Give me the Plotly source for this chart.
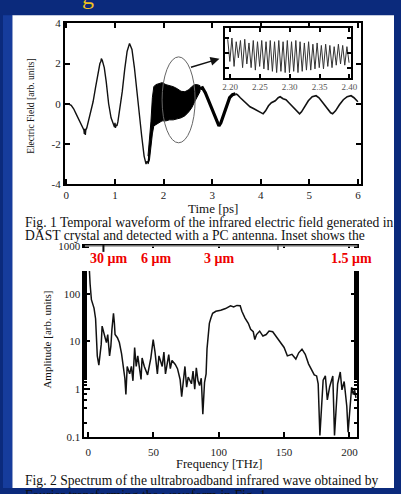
import plotly.graph_objects as go

W, H = 401, 494

# ---------------- data: Fig. 1 temporal waveform ----------------
wave1_t = [0.00, 0.05, 0.10, 0.15, 0.20, 0.25, 0.30, 0.34, 0.36, 0.37,
           0.38, 0.39, 0.40, 0.42, 0.45, 0.50, 0.55, 0.60, 0.65, 0.69,
           0.71, 0.72, 0.74, 0.78, 0.82, 0.87, 0.92, 0.97, 0.99, 1.00,
           1.01, 1.02, 1.04, 1.06, 1.10, 1.15, 1.20, 1.25, 1.30, 1.35,
           1.40, 1.45, 1.50, 1.55, 1.60, 1.62, 1.64, 1.66, 1.68, 1.70]
wave1_e = [0.00, -0.02, -0.08, -0.25, -0.5, -0.75, -1.0, -1.2, -1.3, -1.5,
           -1.25, -1.55, -1.3, -1.2, -0.9, -0.3, 0.1, 0.8, 1.5, 2.0,
           2.1, 2.25, 2.15, 1.8, 1.1, 0.0, -0.7, -1.0, -1.15, -0.95,
           -1.2, -1.05, -1.1, -0.9, -0.3, 0.6, 1.7, 2.6, 3.0, 2.7,
           1.8, 0.6, -0.5, -1.6, -2.6, -2.9, -3.0, -2.85, -2.95, -2.6]

# dense fast-oscillation band (upper / lower envelope)
band_t = [1.68, 1.71, 1.74, 1.77, 1.80, 1.84, 1.90, 1.97, 2.05, 2.12,
          2.20, 2.28, 2.36, 2.44, 2.52, 2.58, 2.64, 2.70, 2.75]
band_hi = [-2.6, -1.9, -0.9, 0.3, 0.85, 0.95, 1.0, 1.05, 0.95, 0.9,
           0.85, 0.75, 0.62, 0.6, 0.7, 0.85, 0.95, 0.95, 0.9]
band_lo = [-3.0, -2.8, -2.3, -1.5, -1.1, -1.05, -0.95, -0.85, -0.85, -0.8,
           -0.8, -0.75, -0.7, -0.6, -0.4, -0.2, 0.1, 0.4, 0.6]

wave2_t = [2.75, 2.80, 2.86, 2.92, 2.98, 3.04, 3.10, 3.14, 3.18, 3.24,
           3.30, 3.36, 3.42, 3.48, 3.52, 3.58, 3.64, 3.70, 3.78, 3.86,
           3.94, 4.00, 4.05, 4.10, 4.16, 4.22, 4.30, 4.36, 4.40, 4.46,
           4.52, 4.58, 4.66, 4.74, 4.80, 4.84, 4.90, 4.98, 5.06, 5.14,
           5.20, 5.28, 5.36, 5.44, 5.48, 5.54, 5.62, 5.70, 5.78, 5.86,
           5.92, 6.00]
wave2_e = [0.75, 0.8, 0.55, 0.2, -0.15, -0.5, -0.9, -1.1, -0.95, -0.5,
           -0.05, 0.3, 0.45, 0.5, 0.45, 0.3, 0.15, 0.0, -0.15, -0.25,
           -0.35, -0.45, -0.5, -0.35, -0.1, 0.05, 0.15, 0.3, 0.35, 0.25,
           0.2, 0.05, -0.15, -0.35, -0.5, -0.4, -0.15, 0.15, 0.35, 0.4,
           0.3, 0.05, -0.25, -0.45, -0.5, -0.35, -0.05, 0.2, 0.35, 0.4,
           0.3, 0.1]

time_ticks = [0, 1, 2, 3, 4, 5, 6]
field_ticks = [-4, -2, 0, 2, 4]
field_labels = ["-4", "-2", "0", "2", "4"]

# inset (2.20 - 2.40 ps)
inset_t = [2.1960, 2.1996, 2.2031, 2.2067, 2.2103, 2.2139, 2.2174, 2.2210, 2.2246, 2.2281,
           2.2317, 2.2353, 2.2389, 2.2424, 2.2460, 2.2496, 2.2531, 2.2567, 2.2603, 2.2639,
           2.2674, 2.2710, 2.2746, 2.2781, 2.2817, 2.2853, 2.2889, 2.2924, 2.2960, 2.2996,
           2.3031, 2.3067, 2.3103, 2.3139, 2.3174, 2.3210, 2.3246, 2.3281, 2.3317, 2.3353,
           2.3389, 2.3424, 2.3460, 2.3496, 2.3531, 2.3567, 2.3603, 2.3639, 2.3674, 2.3710,
           2.3746, 2.3781, 2.3817, 2.3853, 2.3889, 2.3924, 2.3960, 2.3996]
inset_e = [0.55, -0.35, 0.6, -0.55, 0.45, -0.2, 0.5, -0.6, 0.55, -0.45,
           0.4, -0.6, 0.5, -0.7, 0.45, -0.55, 0.5, -0.65, 0.45, -0.7,
           0.5, -0.75, 0.45, -0.8, 0.5, -0.75, 0.45, -0.8, 0.5, -0.8,
           0.45, -0.75, 0.5, -0.8, 0.45, -0.75, 0.4, -0.7, 0.45, -0.7,
           0.35, -0.65, 0.4, -0.6, 0.3, -0.65, 0.35, -0.55, 0.3, -0.6,
           0.25, -0.5, 0.35, -0.45, 0.3, -0.5, 0.25, -0.4]
inset_ticks = [2.20, 2.25, 2.30, 2.35, 2.40]
inset_labels = ["2.20", "2.25", "2.30", "2.35", "2.40"]

# ---------------- data: Fig. 2 spectrum ----------------
spec_f = [0.3, 0.8, 1.5, 2.5, 3.5, 4.5, 5.7, 7.0, 8.2, 9.0,
          10.0, 10.7, 12.0, 13.0, 14.0, 15.0, 16.4, 17.4, 18.2, 19.4,
          20.1, 20.6, 22.4, 23.9, 25.6, 26.9, 28.1, 28.9, 29.9, 31.8,
          33.1, 34.3, 35.6, 36.8, 38.0, 40.5, 41.3, 43.0, 45.5, 48.0,
          49.8, 51.2, 53.0, 54.2, 56.7, 58.0, 59.2, 61.7, 62.9, 64.2,
          66.7, 68.4, 70.4, 71.6, 72.9, 74.1, 75.4, 76.6, 79.1, 80.3,
          81.6, 82.8, 84.1, 85.3, 86.6, 87.1, 87.8, 89.1, 90.3, 91.0,
          92.0, 92.8, 94.0, 95.3, 97.8, 101.5, 105.2, 106.5, 109.0, 111.4,
          113.9, 116.4, 117.7, 120.1, 122.6, 124.4, 126.4, 127.6, 128.9, 131.3,
          133.8, 136.3, 138.5, 141.3, 143.5, 146.3, 150.0, 152.5, 156.0, 159.0,
          161.2, 163.7, 166.2, 168.7, 171.2, 173.1, 174.9, 176.1, 177.4, 178.6,
          179.9, 181.6, 183.1, 184.9, 186.1, 187.3, 188.6, 189.8, 191.0, 193.0,
          194.3, 196.0, 198.0, 199.0, 200.5, 201.7, 203.0, 204.0, 205.0]
spec_a = [700, 350, 160, 75, 60, 50, 30, 5.0, 3.2, 4.8,
          8.7, 21, 14, 12, 9.5, 14, 5.0, 8.0, 17.7, 39,
          24, 14, 12, 9.5, 5.5, 2.7, 1.7, 0.78, 3.0, 2.1,
          3.0, 1.5, 7.5, 3.0, 5.0, 1.6, 4.5, 3.0, 2.0, 4.5,
          11, 6.0, 2.1, 5.0, 3.0, 6.0, 2.1, 5.3, 2.7, 4.0,
          3.3, 2.7, 1.6, 0.7, 1.8, 3.0, 1.1, 1.8, 1.3, 2.4,
          1.0, 2.8, 1.5, 1.2, 1.7, 0.52, 0.3, 1.4, 2.1, 7.0,
          16.6, 24, 31, 39, 43, 45, 49, 51, 56, 53,
          57, 56, 43, 31, 24, 18, 16, 11, 14, 16.5,
          13, 14, 16.5, 16, 13, 10.2, 7.5, 5.0, 5.4, 4.3,
          5.8, 6.9, 5.4, 3.4, 2.5, 2.0, 1.9, 1.3, 0.107, 0.52,
          1.55, 1.9, 0.6, 1.13, 1.45, 1.9, 0.107, 0.44, 1.3, 2.3,
          0.97, 1.45, 0.44, 0.126, 0.52, 1.1, 0.77, 0.97, 0.66]
freq_ticks = [0, 50, 100, 150, 200]
amp_ticks = [0.1, 1, 10, 100, 1000]
amp_labels = ["0.1", "1", "10", "100", "1000"]
wavelength_labels = ["30 μm", "6 μm", "3 μm", "1.5 μm"]

# ---------------- helpers (pixel -> paper) ----------------
def PX(x):
    return x / W


def PY(y):
    return 1 - y / H


SERIF = "Liberation Serif"
fig = go.Figure()

# Fig. 1 main waveform
fig.add_trace(go.Scatter(x=wave1_t, y=wave1_e, mode="lines",
                         line=dict(color="#111", width=1.4), xaxis="x", yaxis="y"))
fig.add_trace(go.Scatter(x=band_t + band_t[::-1], y=band_hi + band_lo[::-1],
                         mode="lines", fill="toself", fillcolor="#000",
                         line=dict(color="#000", width=1), xaxis="x", yaxis="y"))
fig.add_trace(go.Scatter(x=wave2_t[:14], y=wave2_e[:14], mode="lines",
                         line=dict(color="#000", width=3.2), xaxis="x", yaxis="y"))
fig.add_trace(go.Scatter(x=wave2_t[13:], y=wave2_e[13:], mode="lines",
                         line=dict(color="#111", width=1.6), xaxis="x", yaxis="y"))
# inset
fig.add_trace(go.Scatter(x=inset_t, y=inset_e, mode="lines",
                         line=dict(color="#333", width=1), xaxis="x2", yaxis="y2"))
# Fig. 2 spectrum
fig.add_trace(go.Scatter(x=spec_f, y=spec_a, mode="lines",
                         line=dict(color="#111", width=1.5), xaxis="x3", yaxis="y3"))

tickfont = dict(family=SERIF, size=11, color="#222")
common = dict(showgrid=False, zeroline=False, showline=True, linecolor="#000",
              mirror="ticks", ticks="inside", tickcolor="#000", tickfont=tickfont)

fig.update_layout(
    width=W, height=H, margin=dict(l=0, r=0, t=0, b=0),
    paper_bgcolor="#0b2a7c", plot_bgcolor="rgba(0,0,0,0)",
    showlegend=False,
    xaxis=dict(domain=[PX(63.3), PX(366.7)], range=[-0.034, 6.055], anchor="y",
               tickvals=time_ticks, ticklen=5, tickwidth=1.5, linewidth=1.6, **common),
    yaxis=dict(domain=[PY(182.7), PY(17.7)], range=[-4, 4], anchor="x",
               tickvals=field_ticks, ticktext=field_labels, ticklen=5, tickwidth=1.5,
               linewidth=1.6, **common),
    xaxis2=dict(domain=[PX(228), PX(357)], range=[2.192, 2.403], anchor="y2",
                tickvals=inset_ticks, ticktext=inset_labels, ticklen=4, tickwidth=1.5,
                linewidth=2, **{**common, "tickfont": dict(family=SERIF, size=9, color="#555")}),
    yaxis2=dict(domain=[PY(73.3), PY(22.7)], range=[-1, 1], anchor="x2",
                tickvals=[-0.6, 0, 0.6], showticklabels=False, ticklen=4, tickwidth=1.5,
                linewidth=2, **common),
    xaxis3=dict(domain=[PX(83.3), PX(363.3)], range=[-3, 206], anchor="y3",
                tickvals=freq_ticks, ticklen=5, tickwidth=1.5, linewidth=1.6,
                ticklabelstandoff=4, **common),
    yaxis3=dict(domain=[PY(441.7), PY(246)], range=[-1, 3], type="log", anchor="x3",
                tickvals=amp_ticks, ticktext=amp_labels, ticklen=6, tickwidth=1.5,
                linewidth=1.6, minor=dict(ticks="inside", ticklen=3, tickcolor="#000"),
                **common),
)

shapes = [
    # white page area (slide picture)
    dict(type="rect", xref="paper", yref="paper", x0=PX(9.5), x1=1, y0=0, y1=PY(9.5),
         fillcolor="white", line=dict(width=0), layer="below"),
    # lighter left strip of the slide
    dict(type="rect", xref="paper", yref="paper", x0=0, x1=PX(9.5), y0=0, y1=PY(9.5),
         fillcolor="#163c9c", line=dict(width=0), layer="below"),
    # ellipse marking the zoomed region
    dict(type="circle", xref="x", yref="y", x0=1.97, x1=2.65, y0=-1.94, y1=2.33,
         line=dict(color="#666", width=1), layer="above"),
    # white patch covering the top of the spectrum frame
    dict(type="rect", xref="paper", yref="paper", x0=PX(79), x1=PX(372),
         y0=PY(271.5), y1=PY(248), fillcolor="white", line=dict(width=0), layer="above"),
    # grey top frame line of the spectrum
    dict(type="line", xref="paper", yref="paper", x0=PX(84), x1=PX(363.5),
         y0=PY(246), y1=PY(246), line=dict(color="#9a9a9a", width=1.6), layer="above"),
    dict(type="line", xref="paper", yref="paper", x0=PX(103), x1=PX(103),
         y0=PY(245), y1=PY(252), line=dict(color="#111", width=2), layer="above"),
    dict(type="line", xref="paper", yref="paper", x0=PX(282), x1=PX(282),
         y0=PY(245), y1=PY(250), line=dict(color="#555", width=1.5), layer="above"),
]
fig.update_layout(shapes=shapes)


def txt(x, y, text, font, xanchor="center", yanchor="middle", **kw):
    return dict(xref="paper", yref="paper", x=PX(x), y=PY(y), text=text,
                showarrow=False, xanchor=xanchor, yanchor=yanchor, font=font, **kw)


ann = []
# arrow from ellipse to inset
ann.append(dict(xref="paper", yref="paper", x=PX(222), y=PY(54), ax=-30, ay=9,
                text="", showarrow=True, arrowhead=2, arrowsize=1.2, arrowwidth=1.5,
                arrowcolor="#111"))
# axis titles
ann.append(txt(215, 208, "Time [ps]", dict(family=SERIF, size=13, color="#111")))
ann.append(txt(28, 102, "Electric Field [arb. units]", dict(family=SERIF, size=9.5, color="#111"),
               textangle=-90))
ann.append(txt(222, 469, "Frequency [THz]", dict(family=SERIF, size=12.5, color="#111")))
ann.append(txt(45, 342, "Amplitude [arb. units]", dict(family=SERIF, size=11, color="#111"),
               textangle=-90))
# captions
cap_font = dict(family=SERIF, size=13.6, color="#111")
ann.append(txt(21, 221.5, "Fig. 1 Temporal waveform of the infrared electric field generated in",
               cap_font, xanchor="left"))
ann.append(txt(21, 235.5, "DAST crystal and detected with a PC antenna. Inset shows the",
               cap_font, xanchor="left"))
ann.append(txt(21, 486, "Fig. 2 Spectrum of the ultrabroadband infrared wave obtained by",
               cap_font, xanchor="left"))
ann.append(txt(21, 502, "Fourier transforming the waveform in Fig. 1.",
               cap_font, xanchor="left"))
# wavelength labels
for lbl, xc in zip(wavelength_labels, [108, 157, 222, 357]):
    ann.append(txt(xc, 259, "<b>%s</b>" % lbl, dict(family=SERIF, size=14, color="#ee0000")))
# bit of the slide title (cropped at the top edge)
ann.append(txt(87, 5, "g", dict(family=SERIF, size=24, color="#f2c21c"), yanchor="bottom"))
fig.update_layout(annotations=ann)

fig.write_html("out.html")
